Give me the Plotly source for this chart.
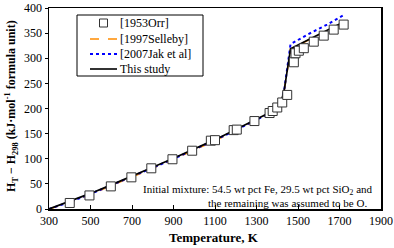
import plotly.graph_objects as go

# [1953Orr] experimental points
orr_T = [400, 495, 598, 697, 793, 895, 990, 1080, 1100, 1190, 1205, 1290, 1363, 1378, 1400, 1424, 1448, 1480, 1488, 1504, 1528, 1576, 1624, 1672, 1720]
orr_H = [12, 27, 45, 63, 81, 99, 116, 136, 137, 157, 158, 175, 191, 195, 202, 212, 227, 292, 310, 315, 320, 333, 345, 357, 367]

# This study
this_T = [300, 400, 500, 600, 700, 800, 900, 1000, 1100, 1200, 1300, 1350, 1400, 1420, 1435, 1445, 1455, 1464, 1550, 1640, 1720]
this_H = [0, 15, 31, 48, 65, 83, 101, 119, 138, 158, 178, 189, 203, 215, 240, 266, 293, 319, 337, 355, 372]

# [1997Selleby]
sel_T = [300, 400, 500, 600, 700, 800, 900, 1000, 1100, 1200, 1300, 1350, 1400, 1420, 1435, 1445, 1455, 1464, 1550, 1640, 1720]
sel_H = [0, 13, 29, 46, 63, 81, 99, 117, 136, 156, 176, 187, 201, 214, 239, 265, 292, 318, 336, 354, 371]

# [2007Jak et al]
jak_T = [300, 400, 500, 600, 700, 800, 900, 1000, 1100, 1200, 1300, 1350, 1400, 1420, 1435, 1445, 1455, 1464, 1550, 1640, 1720]
jak_H = [0, 14, 30, 47, 64, 82, 100, 118, 137, 157, 177, 188, 202, 215, 241, 268, 296, 328, 348, 367, 386]

x_ticks = [300, 500, 700, 900, 1100, 1300, 1500, 1700, 1900]
y_ticks = [0, 50, 100, 150, 200, 250, 300, 350, 400]

legend_names = ["[1953Orr]", "[1997Selleby]", "[2007Jak et al]", "This study"]

FONT = "Liberation Serif"
W, H = 394, 248
ML, MR, MT, MB = 49, 13, 8, 39
PW, PH = W - ML - MR, H - MT - MB


def px(x):
    return (x - ML) / PW


def py(y):
    return (H - MB - y) / PH


fig = go.Figure()
fig.add_trace(go.Scatter(x=sel_T, y=sel_H, mode="lines", name=legend_names[1],
                         line=dict(color="#FF8C00", width=1.6, dash="dash")))
fig.add_trace(go.Scatter(x=jak_T, y=jak_H, mode="lines", name=legend_names[2],
                         line=dict(color="#0000FF", width=2, dash="dot")))
fig.add_trace(go.Scatter(x=this_T, y=this_H, mode="lines", name=legend_names[3],
                         line=dict(color="black", width=1.7)))
fig.add_trace(go.Scatter(x=orr_T, y=orr_H, mode="markers", name=legend_names[0],
                         marker=dict(symbol="square", size=9, color="white",
                                     line=dict(color="#333333", width=1))))

# Hand-built legend box (compact spacing as in the original)
shapes = [dict(type="rect", xref="paper", yref="paper",
               x0=px(77), x1=px(203), y0=py(76), y1=py(15),
               line=dict(color="black", width=1), fillcolor="white", layer="above")]
row_y = [23, 39, 54, 69]
shapes.append(dict(type="rect", xref="paper", yref="paper",
                   x0=px(99.5), x1=px(107.5), y0=py(row_y[0] + 4), y1=py(row_y[0] - 4),
                   line=dict(color="#333333", width=1), fillcolor="white", layer="above"))
styles = [dict(color="#FF8C00", width=1.6, dash="dash"),
          dict(color="#0000FF", width=2, dash="dot"),
          dict(color="black", width=1.6)]
for yy, st in zip(row_y[1:], styles):
    shapes.append(dict(type="line", xref="paper", yref="paper",
                       x0=px(90), x1=px(117), y0=py(yy), y1=py(yy),
                       line=st, layer="above"))

annotations = []
for yy, name in zip(row_y, legend_names):
    annotations.append(dict(text=name, xref="paper", yref="paper", x=px(118), y=py(yy),
                            xanchor="left", yanchor="middle", showarrow=False,
                            font=dict(family=FONT, size=12)))

annotations += [
    dict(text="Initial mixture: 54.5 wt pct Fe, 29.5 wt pct SiO<sub>2</sub> and",
         xref="paper", yref="paper", x=px(141), y=py(190),
         xanchor="left", yanchor="middle", showarrow=False,
         font=dict(family=FONT, size=11)),
    dict(text="the remaining was assumed to be O.",
         xref="paper", yref="paper", x=px(206), y=py(202.5),
         xanchor="left", yanchor="middle", showarrow=False,
         font=dict(family=FONT, size=11)),
    dict(text="<b>H<sub>T</sub> − H<sub>298</sub> (kJ·mol<sup>-1</sup> formula unit)</b>",
         xref="paper", yref="paper", x=px(11), y=py(106),
         xanchor="center", yanchor="middle", textangle=-90, showarrow=False,
         font=dict(family=FONT, size=12)),
    dict(text="<b>Temperature, K</b>",
         xref="paper", yref="paper", x=px(214), y=py(238),
         xanchor="center", yanchor="middle", showarrow=False,
         font=dict(family=FONT, size=13)),
]

fig.update_layout(
    width=W, height=H,
    margin=dict(l=ML, r=MR, t=MT, b=MB, autoexpand=False),
    paper_bgcolor="white", plot_bgcolor="white",
    font=dict(family=FONT, size=12, color="black"),
    showlegend=False,
    hovermode=False,
    xaxis=dict(range=[300, 1900], tickvals=x_ticks, showgrid=False, zeroline=False,
               showline=True, linecolor="black", linewidth=1.5, mirror=True,
               ticks="inside", ticklen=4, tickcolor="black", automargin=False,
               tickfont=dict(family=FONT, size=12)),
    yaxis=dict(range=[0, 400], tickvals=y_ticks, showgrid=False, zeroline=False,
               showline=True, linecolor="black", linewidth=1.5, mirror=True,
               ticks="outside", ticklen=3, tickcolor="black", automargin=False,
               tickfont=dict(family=FONT, size=12)),
    shapes=shapes,
    annotations=annotations,
)

fig.write_html("out.html", config={"displayModeBar": False, "staticPlot": True},
               post_script="document.body.style.margin='0';")
